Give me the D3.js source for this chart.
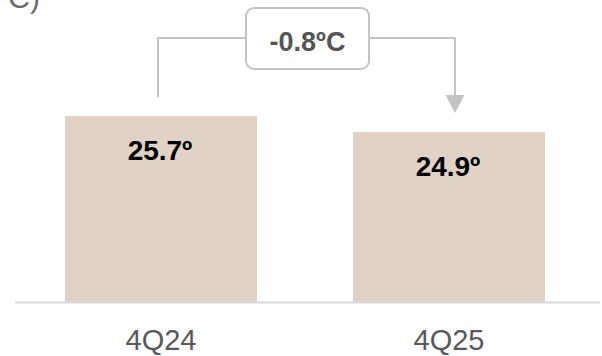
<!DOCTYPE html>
<html>
<head>
<meta charset="utf-8">
<script src="https://cdn.jsdelivr.net/npm/d3@7"></script>
<style>
  html, body { margin: 0; padding: 0; background: #fff; }
  svg { display: block; font-family: "Liberation Sans", Arial, sans-serif; }
</style>
</head>
<body>
<svg id="chart" width="602" height="356"></svg>
<script>
// Average temperature by quarter
const categories = ["4Q24", "4Q25"];
const values = [25.7, 24.9];
const valueLabels = ["25.7º", "24.9º"];
const changeLabel = "-0.8ºC";
const unitLabel = "(ºC)";

const svg = d3.select("#chart");
const W = 602, H = 356;

const x = d3.scaleBand()
  .domain(categories)
  .range([17, 593])
  .paddingInner(1 / 3)
  .paddingOuter(1 / 6);

const y = d3.scaleLinear()
  .domain([16.4, 25.7])
  .range([302, 116]);

// unit caption, partly clipped at the top-left
svg.append("text")
  .attr("x", 40)
  .attr("y", 8)
  .attr("text-anchor", "end")
  .attr("fill", "#6b6b6b")
  .style("font-size", "30px")
  .text(unitLabel);

// bars
svg.selectAll("rect.bar")
  .data(values)
  .join("rect")
  .attr("class", "bar")
  .attr("x", (d, i) => x(categories[i]))
  .attr("y", d => y(d))
  .attr("width", x.bandwidth())
  .attr("height", d => y.range()[0] - y(d))
  .attr("fill", "#e0d3c6");

// value labels inside bars
svg.selectAll("text.val")
  .data(values)
  .join("text")
  .attr("class", "val")
  .attr("x", (d, i) => x(categories[i]) + x.bandwidth() / 2 - 1)
  .attr("y", d => y(d) + 44)
  .attr("text-anchor", "middle")
  .attr("fill", "#000")
  .style("font-size", "28px")
  .style("font-weight", "bold")
  .text((d, i) => valueLabels[i]);

// baseline
svg.append("line")
  .attr("x1", 15).attr("x2", 600)
  .attr("y1", y.range()[0] + 0.5).attr("y2", y.range()[0] + 0.5)
  .attr("stroke", "#d9d9d9")
  .attr("stroke-width", 2);

// category axis labels
const xAxis = d3.axisBottom(x).tickSize(0).tickPadding(0);
const gx = svg.append("g")
  .attr("transform", `translate(0, ${y.range()[0]})`)
  .call(xAxis);
gx.select(".domain").remove();
gx.selectAll("text")
  .attr("dy", null)
  .attr("y", 48)
  .attr("fill", "#595959")
  .style("font-size", "29px")
  .style("font-family", "'Liberation Sans', Arial, sans-serif");

// change bracket with arrow
const gray = "#c4c4c4";
const xl = x(categories[0]) + x.bandwidth() / 2 - 3;
const xr = x(categories[1]) + x.bandwidth() / 2 + 6;
const yTop = 38;
const boxL = 246, boxR = 369, boxT = 8, boxB = 69;

svg.append("path")
  .attr("d", `M${xl},97 V${yTop} H${boxL}`)
  .attr("fill", "none")
  .attr("stroke", gray)
  .attr("stroke-width", 2);
svg.append("path")
  .attr("d", `M${boxR},${yTop} H${xr} V96`)
  .attr("fill", "none")
  .attr("stroke", gray)
  .attr("stroke-width", 2);
svg.append("path")
  .attr("d", `M${xr - 9.5},95 L${xr + 9.5},95 L${xr},113 Z`)
  .attr("fill", gray);

svg.append("rect")
  .attr("x", boxL).attr("y", boxT)
  .attr("width", boxR - boxL).attr("height", boxB - boxT)
  .attr("rx", 8).attr("ry", 8)
  .attr("fill", "#fff")
  .attr("stroke", gray)
  .attr("stroke-width", 2);

svg.append("text")
  .attr("x", (boxL + boxR) / 2)
  .attr("y", 51)
  .attr("text-anchor", "middle")
  .attr("fill", "#555")
  .style("font-size", "27px")
  .style("font-weight", "bold")
  .text(changeLabel);
</script>
</body>
</html>
